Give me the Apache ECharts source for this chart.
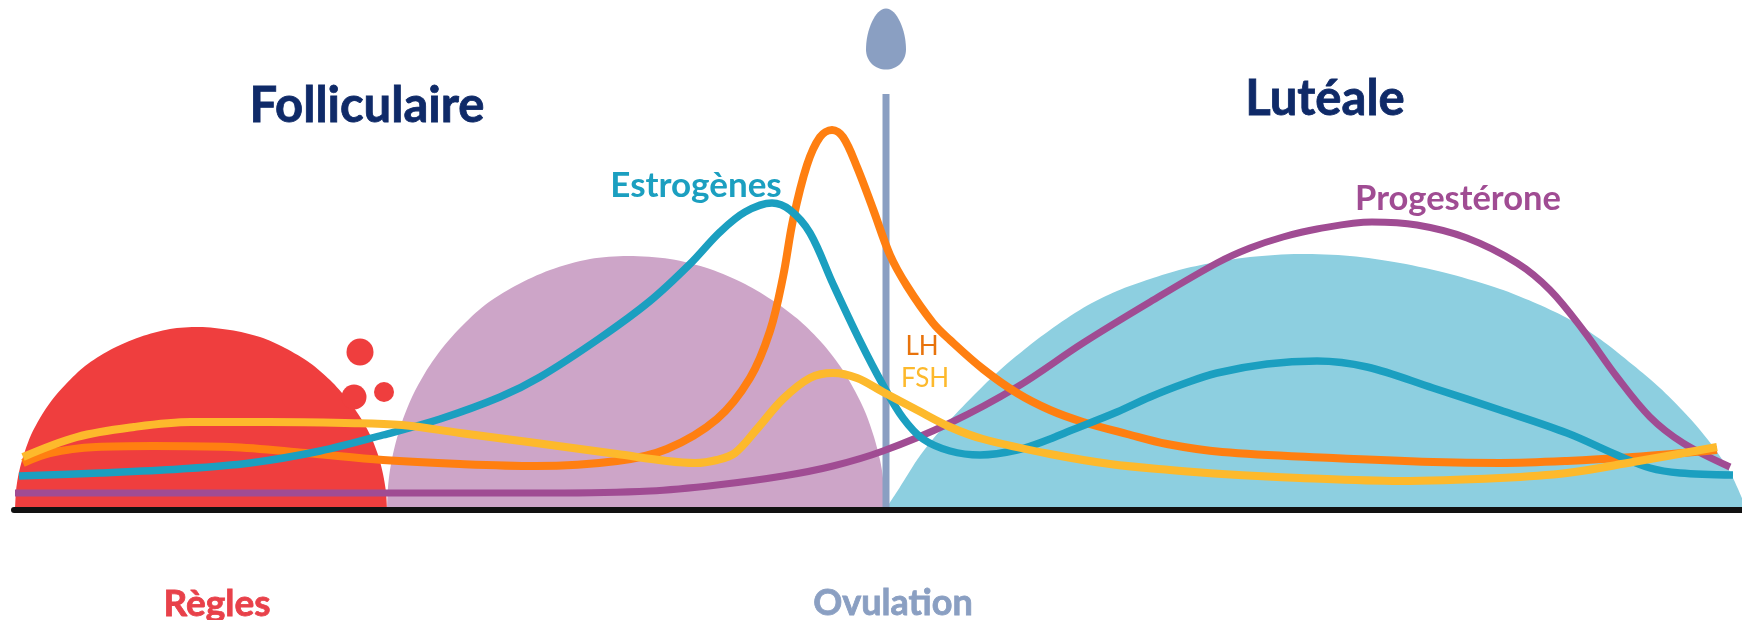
<!DOCTYPE html>
<html><head><meta charset="utf-8">
<style>html,body{margin:0;padding:0;background:#fff}#c{width:1742px;height:620px}</style>
<script src="https://cdn.jsdelivr.net/npm/echarts@6/dist/echarts.min.js"></script>
</head><body><div id="c"></div>
<script>
// x = position along the cycle, h = level above the baseline
const reglesX=[15,16,18,21,25,31,40,52,66,85,110,140,170,199,230,260,285,310,330,348,362,372,379,383,386,387];
const reglesH=[0,19,33,46,59,75,92,110,126,144,160,173,181,183,180,173,162,147,130,110,90,71,52,36,18,0];
const follicX=[387,388,390,393,397,403,412,425,440,460,485,515,550,590,628,670,710,745,775,800,822,840,855,866,874,880,883,885];
const follicH=[0,23,40,56,72,91,113,137,159,182,205,224,240,251,254,251,241,226,208,189,167,144,119,96,73,50,32,0];
const luteaX=[885,900,917,933,950,975,1000,1025,1050,1083,1117,1150,1183,1217,1250,1300,1350,1400,1450,1500,1533,1567,1600,1633,1660,1683,1700,1717,1730,1742];
const luteaH=[0,23,50,71,90,116,140,161,180,202,219,231,241,248,253,256,254,247,236,221,208,192,171,145,122,99,80,58,38,12];
const estroX=[19,100,180,250,320,383,440,500,540,600,650,690,720,745,772,790,810,833,860,883,903,923,950,980,1017,1050,1067,1117,1150,1183,1217,1267,1317,1367,1433,1500,1567,1617,1650,1680,1733];
const estroH=[34,37,41,47,59,75,91,113,133,172,209,246,278,298,307,300,277,226,169,125,92,71,59,55,60,71,78,98,113,126,137,146,149,143,122,100,77,55,42,37,35];
const lhX=[23,50,96,153,230,306,383,460,536,617,667,717,750,770,783,793,807,820,832,843,857,873,890,907,933,950,983,1017,1050,1083,1127,1167,1222,1333,1433,1500,1567,1633,1717];
const lhH=[47,57,63,64,63,57,50,46,44,49,61,91,132,179,233,290,345,373,380,373,343,301,255,224,187,170,141,117,100,88,76,66,58,52,48,47,49,53,60];
const fshX=[23,77,134,191,268,345,402,460,536,617,667,695,717,735,757,783,810,833,857,883,917,950,983,1050,1110,1170,1222,1300,1400,1500,1567,1633,1717];
const fshH=[53,73,83,88,88,87,85,77,67,56,49,47,50,57,81,111,132,137,132,118,100,83,71,56,46,40,36,32,29,32,37,48,63];
const progX=[15,300,550,650,717,783,833,883,950,1017,1083,1150,1217,1250,1283,1317,1372,1417,1467,1517,1550,1583,1617,1650,1683,1730];
const progH=[17,17,17,19,25,34,44,59,87,123,167,208,247,262,273,281,288,285,272,247,220,180,133,93,67,43];
const ovulX=[886,886];
const ovulH=[0,416];
const dropX=[886];
const dropH=[471];
const dotX=[360,354,384];
const dotH=[158,113,118];
const dotSizes=[27,25,20];
const zip=(a,b)=>a.map((v,i)=>[v,b[i]]);
const colors={red:'#ef3e3e',mauve:'#cda5c8',sky:'#8dcfe0',teal:'#1b9fc0',orange:'#ff7f11',yellow:'#fdb92c',purple:'#a04c93',ovul:'#8a9fc2',navy:'#0f2a68'};
const dome=(n,x,h,c)=>({name:n,type:'line',data:zip(x,h),smooth:0.3,showSymbol:false,symbol:'none',lineStyle:{width:0},areaStyle:{color:c,opacity:1},z:1,silent:true});
const curve=(n,x,h,c,w,z)=>({name:n,type:'line',data:zip(x,h),smooth:0.35,showSymbol:false,symbol:'none',lineStyle:{color:c,width:w,cap:'butt',join:'round'},z:z,silent:true});
const chart=echarts.init(document.getElementById('c'),null,{renderer:'canvas'});
const txt=(s,cx,cy,size,c,weight,sw)=>({type:'text',x:cx,y:cy,z:50,style:{text:s,fill:c,font:(weight||'bold')+' '+size+'px Lato',textAlign:'center',textVerticalAlign:'middle',stroke:sw?c:null,lineWidth:sw||0}});
chart.setOption({
  animation:false,backgroundColor:'#fff',
  grid:{left:14,right:0,top:0,bottom:110,containLabel:false},
  xAxis:{type:'value',min:14,max:1742,z:10,splitLine:{show:false},axisTick:{show:false},axisLabel:{show:false},axisLine:{show:true,onZero:true,lineStyle:{color:'#111',width:6}}},
  yAxis:{type:'value',min:0,max:510,show:false,splitLine:{show:false}},
  series:[
    dome('Règles',reglesX,reglesH,colors.red),
    dome('Folliculaire',follicX,follicH,colors.mauve),
    dome('Lutéale',luteaX,luteaH,colors.sky),
    {name:'dots',type:'scatter',data:zip(dotX,dotH),symbol:'circle',symbolSize:(v,p)=>dotSizes[p.dataIndex],itemStyle:{color:colors.red,opacity:1},z:1,silent:true},
    {name:'Ovulation',type:'line',data:zip(ovulX,ovulH),symbol:'none',lineStyle:{color:colors.ovul,width:7},z:2,silent:true},
    {name:'drop',type:'scatter',data:zip(dropX,dropH),symbol:'path://M20 0C31 0 40 22 40 40C40 52 31 60 20 60C9 60 0 52 0 40C0 22 9 0 20 0Z',symbolKeepAspect:false,symbolSize:[40,61],itemStyle:{color:colors.ovul,opacity:1},z:2,silent:true},
    curve('Progestérone',progX,progH,colors.purple,7,3),
    curve('LH',lhX,lhH,colors.orange,8,4),
    curve('Estrogènes',estroX,estroH,colors.teal,7.5,5),
    curve('FSH',fshX,fshH,colors.yellow,8,6)
  ],
  graphic:[
    txt('Folliculaire',367,106,49,colors.navy,'bold',0.8),
    txt('Lutéale',1325,99,49,colors.navy,'bold',0.8),
    txt('Estrogènes',696,186,35,colors.teal),
    txt('Progestérone',1458,199,34.5,colors.purple),
    txt('LH',922,347,26,'#e8730c','normal'),
    txt('FSH',925,379,26,colors.yellow,'normal'),
    txt('Règles',217,604,37,'#e8414a','bold',0.8),
    txt('Ovulation',893,603,36,colors.ovul,'bold',0.8)
  ]
});
</script></body></html>
